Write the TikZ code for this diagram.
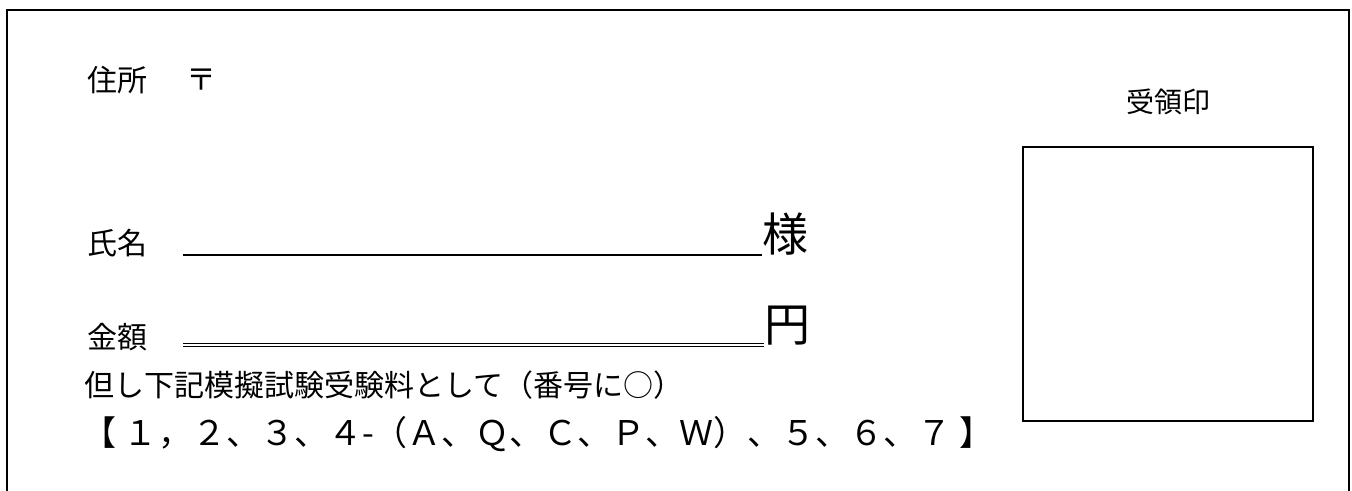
\documentclass[tikz,border=0pt]{standalone}
\usepackage{fontspec}
\newfontfamily\jpfont{Noto Sans CJK JP}
\usetikzlibrary{calc}

\tikzset{
  label text/.style = {anchor=west, inner sep=0pt},
  big text/.style   = {anchor=south west, inner sep=0pt, font=\jpfont\fontsize{23}{26}\selectfont}
}

\begin{document}
\begin{tikzpicture}[x=0.5pt, y=-0.5pt, font=\jpfont\fontsize{15}{18}\selectfont]
  % Area del disegno
  \useasboundingbox (0,0) rectangle (1352,491);

  % Cornice esterna (aperta in basso)
  \draw[line width=1pt] (7,491) -- (7,10) -- (1349,10) -- (1349,491);

  % Indirizzo
  \node[label text] (addr) at (87,80) {住所};
  \node[label text] (zip) at (186,80) {〒};

  % Nome e sottolineatura
  \node[label text] (name) at (87,243) {氏名};
  \node[big text] (sama) at (762,256) {様};
  \coordinate (nl) at (183,255);
  \draw[line width=0.8pt] (nl) -- (nl -| sama.south west);

  % Importo e doppia sottolineatura
  \node[label text] (amount) at (87,337) {金額};
  \node[big text] (yen) at (764,346) {円};
  \coordinate (al) at (183,343);
  \draw[line width=0.5pt] (al) -- (al -| yen.south west);
  \draw[line width=0.5pt] ($(al)+(0,3.5)$) -- ($(al -| yen.south west)+(0,3.5)$);

  % Causale
  \node[label text] (note) at (84,385) {但し下記模擬試験受験料として（番号に○）};
  \node[label text, font=\jpfont\fontsize{17}{20}\selectfont] (list) at (82,434)
    {【 １，２、３、４-（Ａ、Ｑ、Ｃ、Ｐ、Ｗ）、５、６、７ 】};

  % Riquadro per il timbro
  \node[font=\jpfont\fontsize{14}{16}\selectfont] (stamplabel) at (1168,102) {受領印};
  \draw[line width=1pt] (1023,147) rectangle (1313,421);
\end{tikzpicture}
\end{document}
